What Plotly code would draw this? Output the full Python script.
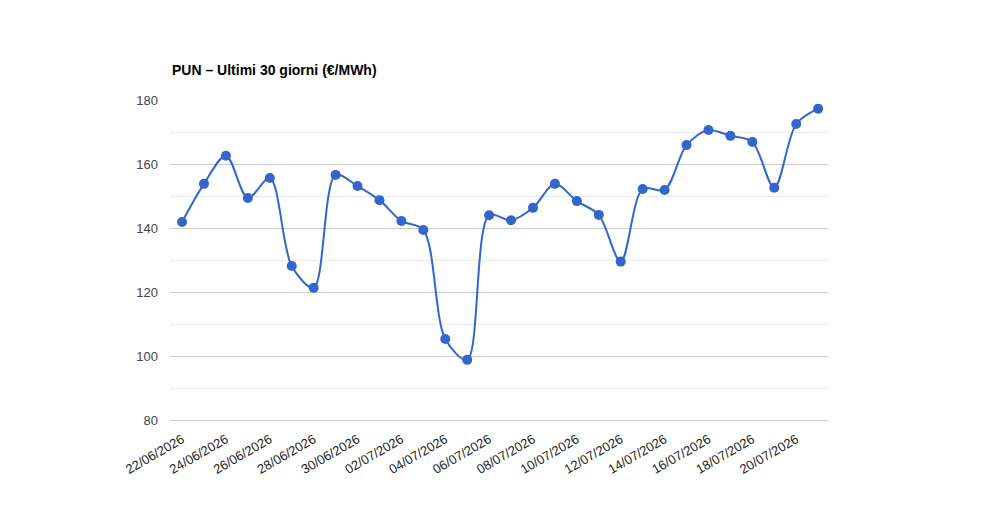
import plotly.graph_objects as go

dates = ["22/06/2026", "23/06/2026", "24/06/2026", "25/06/2026", "26/06/2026",
         "27/06/2026", "28/06/2026", "29/06/2026", "30/06/2026", "01/07/2026",
         "02/07/2026", "03/07/2026", "04/07/2026", "05/07/2026", "06/07/2026",
         "07/07/2026", "08/07/2026", "09/07/2026", "10/07/2026", "11/07/2026",
         "12/07/2026", "13/07/2026", "14/07/2026", "15/07/2026", "16/07/2026",
         "17/07/2026", "18/07/2026", "19/07/2026", "20/07/2026", "21/07/2026"]
pun = [141.9, 153.8, 162.6, 149.4, 155.6, 128.1, 121.3, 156.6, 153.1, 148.7,
       142.2, 139.4, 105.3, 98.8, 144.0, 142.4, 146.3, 153.8, 148.4, 144.1,
       129.5, 152.2, 151.9, 165.9, 170.6, 168.8, 166.9, 152.6, 172.5, 177.3]
tick_dates = dates[::2]
title_text = "PUN – Ultimi 30 giorni (€/MWh)"

fig = go.Figure()
fig.add_trace(go.Scatter(
    x=dates, y=pun, mode="lines+markers",
    line=dict(color="#3366cc", width=2, shape="spline", smoothing=0.9),
    marker=dict(color="#3366cc", size=10),
    showlegend=False,
))

fig.update_layout(
    width=1000, height=520,
    margin=dict(l=170, r=172, t=100, b=100),
    paper_bgcolor="white", plot_bgcolor="white",
    font=dict(family="Liberation Sans, Arial, sans-serif", size=13, color="#444444"),
    xaxis=dict(
        type="category", range=[-0.55, 29.45],
        tickmode="array", tickvals=tick_dates, ticktext=tick_dates,
        tickangle=-30, showgrid=False, showline=True, linecolor="#cccccc",
        linewidth=1, zeroline=False,
        ticks="", ticklabelstandoff=6, tickfont=dict(size=13, color="#222222"),
    ),
    yaxis=dict(
        range=[80, 180], dtick=20, tick0=80,
        showgrid=True, gridcolor="#cccccc", gridwidth=1,
        zeroline=False, showline=False, ticks="", ticklabelstandoff=11,
        tickfont=dict(size=13, color="#444444"),
        minor=dict(dtick=10, tick0=80, showgrid=True, gridcolor="#ebebeb", gridwidth=1),
    ),
    annotations=[dict(
        text="<b>" + title_text + "</b>", xref="paper", yref="paper",
        x=0, y=1 + 30 / 320, xanchor="left", yanchor="middle", showarrow=False,
        font=dict(size=14, color="#000000", family="Liberation Sans, Arial, sans-serif"),
    )],
)

fig.write_html("out.html")
